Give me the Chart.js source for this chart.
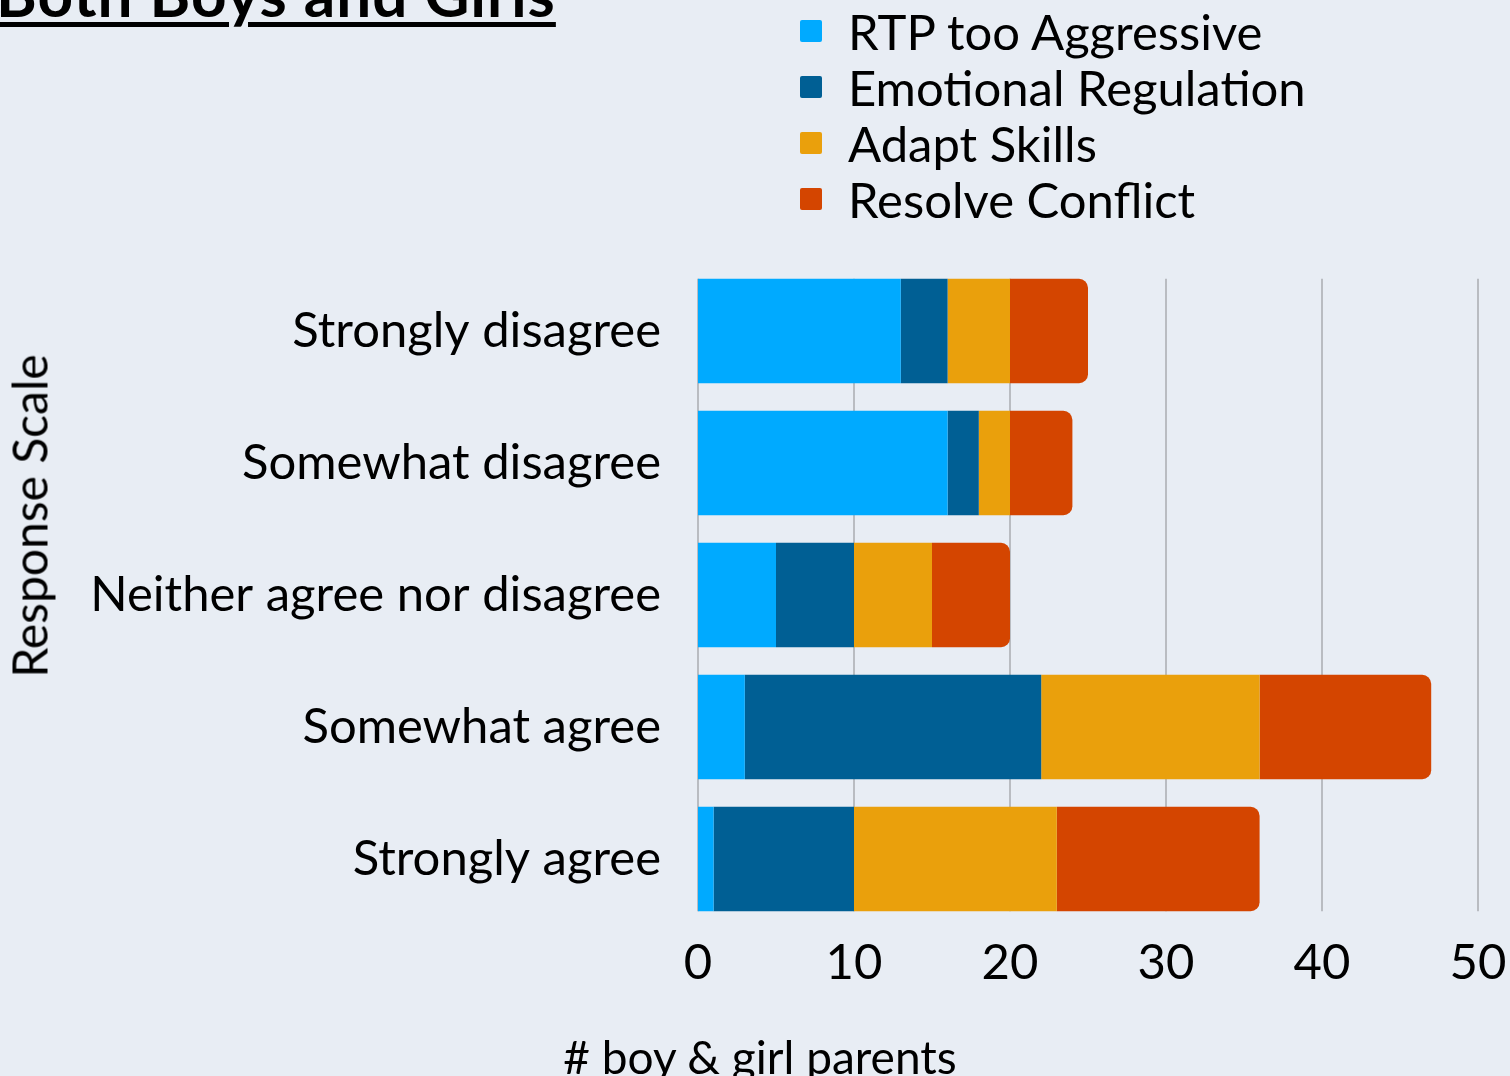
<!DOCTYPE html>
<html>
<head>
<meta charset="utf-8">
<script src="https://cdn.jsdelivr.net/npm/chart.js@4"></script>
<style>
  html, body { margin: 0; padding: 0; background: #e8edf4; overflow: hidden; }
  body { width: 1510px; height: 1076px; position: relative; font-family: Lato, "Noto Sans", sans-serif; color: #000; }
  #wrap { position: absolute; left: 0; top: 0; width: 1510px; height: 1076px; }
  #title { position: absolute; left: -4px; top: -44px; font-size: 62px; font-weight: bold; letter-spacing: 1px; text-decoration: underline; text-decoration-thickness: 5px; text-underline-offset: 5px; white-space: nowrap; }
  #legend { position: absolute; left: 800px; top: 3px; }
  .item { height: 56px; display: flex; align-items: center; font-size: 49px; white-space: nowrap; }
  .box { width: 22px; height: 22px; border-radius: 2px; margin-right: 26px; }
  #ytitle { position: absolute; left: 29px; top: 516px; transform: translate(-50%, -50%) rotate(-90deg); font-size: 48px; white-space: nowrap; }
  #xtitle { position: absolute; left: 760px; top: 1056px; transform: translate(-50%, -50%); font-size: 46px; white-space: nowrap; }
</style>
</head>
<body>
<div id="wrap"><canvas id="chart"></canvas></div>
<div id="title">Both Boys and Girls</div>
<div id="legend"></div>
<div id="ytitle">Response Scale</div>
<div id="xtitle"># boy &amp; girl parents</div>
<script>
// Response categories (top to bottom)
var categories = [
  "Strongly disagree",
  "Somewhat disagree",
  "Neither agree nor disagree",
  "Somewhat agree",
  "Strongly agree",
];
var seriesNames = ["RTP too Aggressive", "Emotional Regulation", "Adapt Skills", "Resolve Conflict"];
var seriesColors = ["#00aaff", "#005f94", "#eaa00c", "#d44500"];

// values per series, one per category
var rtpValues = [13, 16, 5, 3, 1];
var emotionalValues = [3, 2, 5, 19, 9];
var adaptValues = [4, 2, 5, 14, 13];
var resolveValues = [5, 4, 5, 11, 13];

var xTicks = [0, 10, 20, 30, 40, 50];

var FONT = "Lato, 'Noto Sans', sans-serif";

// vertical grid lines only as tall as the bars
var gridPlugin = {
  id: "barGrid",
  beforeDatasetsDraw: function (chart) {
    var ctx = chart.ctx;
    var x = chart.scales.x;
    var bars = chart.getDatasetMeta(0).data;
    var top = bars[0].y - bars[0].height / 2;
    var last = bars[bars.length - 1];
    var bottom = last.y + last.height / 2;
    ctx.save();
    ctx.strokeStyle = "#b9bcc1";
    ctx.lineWidth = 2;
    xTicks.forEach(function (v) {
      var px = Math.round(x.getPixelForValue(v));
      ctx.beginPath();
      ctx.moveTo(px, top);
      ctx.lineTo(px, bottom);
      ctx.stroke();
    });
    ctx.restore();
  },
};

function buildLegend() {
  var legend = document.getElementById("legend");
  seriesNames.forEach(function (name, i) {
    var item = document.createElement("div");
    item.className = "item";
    var box = document.createElement("span");
    box.className = "box";
    box.style.background = seriesColors[i];
    item.appendChild(box);
    item.appendChild(document.createTextNode(name));
    legend.appendChild(item);
  });
}

function responseChart() {
  var allValues = [rtpValues, emotionalValues, adaptValues, resolveValues];
  var datasets = allValues.map(function (vals, i) {
    var ds = {
      label: seriesNames[i],
      data: vals,
      backgroundColor: seriesColors[i],
      borderWidth: 0,
      categoryPercentage: 0.79,
      barPercentage: 1,
    };
    if (i === allValues.length - 1) {
      ds.borderRadius = { topLeft: 0, bottomLeft: 0, topRight: 9, bottomRight: 9 };
      ds.borderSkipped = false;
    }
    return ds;
  });

  new Chart(document.getElementById("chart"), {
    type: "bar",
    data: { labels: categories, datasets: datasets },
    options: {
      indexAxis: "y",
      responsive: true,
      maintainAspectRatio: false,
      animation: false,
      layout: { padding: { top: 265, right: 32, bottom: 0, left: 0 } },
      plugins: {
        legend: { display: false },
        tooltip: { enabled: false },
      },
      scales: {
        x: {
          stacked: true,
          min: 0,
          max: 50,
          afterBuildTicks: function (scale) {
            scale.ticks = xTicks.map(function (v) { return { value: v }; });
          },
          afterFit: function (scale) {
            scale.height = 151;
            scale.paddingLeft = 0;
            scale.paddingRight = 0;
          },
          grid: { display: false },
          border: { display: false },
          ticks: {
            color: "#000",
            padding: 1,
            maxRotation: 0,
            font: { family: FONT, size: 49 },
          },
        },
        y: {
          stacked: true,
          afterFit: function (scale) {
            scale.width = 698;
            scale.paddingTop = 0;
            scale.paddingBottom = 0;
          },
          grid: { display: false },
          border: { display: false },
          ticks: {
            color: "#000",
            padding: 29,
            font: { family: FONT, size: 49 },
          },
        },
      },
    },
    plugins: [gridPlugin],
  });
}

document.addEventListener("DOMContentLoaded", function () {
  buildLegend();
  responseChart();
});
</script>
</body>
</html>
